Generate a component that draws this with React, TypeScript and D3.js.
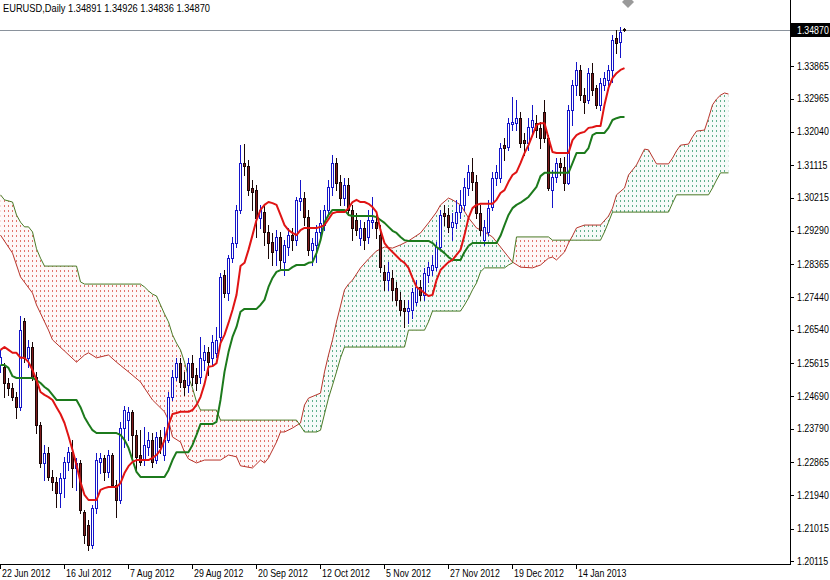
import React from "react"
import * as d3 from "d3"

// EURUSD daily candles, one entry per trading day (bar 0 = 22 Jun 2012)
const opens = [
  1.2556, 1.2551, 1.2506, 1.2492, 1.2467, 1.2439, 1.2678, 1.2576, 1.2606, 1.2523,
  1.2389, 1.2284, 1.2312, 1.2245, 1.2231, 1.2200, 1.2242, 1.2287, 1.2314, 1.2270,
  1.2284, 1.2148, 1.2112, 1.2056, 1.2159, 1.2287, 1.2298, 1.2259, 1.2306, 1.2223,
  1.2181, 1.2381, 1.2403, 1.2426, 1.2362, 1.2306, 1.2292, 1.2328, 1.2348, 1.2292,
  1.2356, 1.2306, 1.2348, 1.2467, 1.2523, 1.2562, 1.2514, 1.2500, 1.2562, 1.2528,
  1.2523, 1.2570, 1.2592, 1.2576, 1.2590, 1.2634, 1.2806, 1.2756, 1.2853, 1.2895,
  1.2987, 1.3117, 1.3109, 1.3048, 1.3042, 1.2965, 1.2981, 1.2926, 1.2898, 1.2876,
  1.2912, 1.2842, 1.2884, 1.2917, 1.2903, 1.3012, 1.3020, 1.2967, 1.2876, 1.2890,
  1.2926, 1.2945, 1.2987, 1.3051, 1.3117, 1.3065, 1.3020, 1.3056, 1.2987, 1.2959,
  1.2909, 1.2937, 1.2912, 1.2953, 1.2953, 1.2917, 1.2815, 1.2792, 1.2798, 1.2770,
  1.2737, 1.2715, 1.2706, 1.2709, 1.2731, 1.2773, 1.2751, 1.2806, 1.2820, 1.2828,
  1.2884, 1.2978, 1.2973, 1.2940, 1.2951, 1.2981, 1.3001, 1.3048, 1.3092, 1.3065,
  1.2978, 1.2903, 1.2926, 1.2995, 1.3076, 1.3076, 1.3167, 1.3162, 1.3226, 1.3228,
  1.3242, 1.3181, 1.3173, 1.3217, 1.3228, 1.3215, 1.3259, 1.3187, 1.3042, 1.3078,
  1.3117, 1.3106, 1.3062, 1.3265, 1.3334, 1.3376, 1.3306, 1.3292, 1.3367, 1.3326,
  1.3279, 1.3334, 1.3348, 1.3376, 1.3465, 1.3454, 1.34891,
]
const highs = [
  1.2598, 1.2562, 1.2520, 1.2506, 1.2481, 1.2692, 1.2687, 1.2626, 1.2620, 1.2537,
  1.2398, 1.2334, 1.2328, 1.2264, 1.2245, 1.2256, 1.2300, 1.2328, 1.2348, 1.2298,
  1.2292, 1.2153, 1.2125, 1.2167, 1.2312, 1.2312, 1.2306, 1.2320, 1.2312, 1.2237,
  1.2398, 1.2442, 1.2439, 1.2431, 1.2375, 1.2375, 1.2384, 1.2370, 1.2367, 1.2370,
  1.2375, 1.2384, 1.2481, 1.2542, 1.2576, 1.2576, 1.2537, 1.2576, 1.2584, 1.2548,
  1.2634, 1.2612, 1.2606, 1.2640, 1.2662, 1.2812, 1.2820, 1.2862, 1.2912, 1.3001,
  1.3167, 1.3170, 1.3126, 1.3070, 1.3056, 1.3001, 1.3001, 1.2945, 1.2923, 1.2931,
  1.2926, 1.2903, 1.2937, 1.2937, 1.3023, 1.3070, 1.3037, 1.2987, 1.2909, 1.2945,
  1.2987, 1.3001, 1.3070, 1.3140, 1.3131, 1.3084, 1.3076, 1.3076, 1.3001, 1.2978,
  1.2959, 1.2953, 1.2987, 1.3023, 1.2973, 1.2945, 1.2834, 1.2842, 1.2820, 1.2787,
  1.2759, 1.2737, 1.2737, 1.2770, 1.2792, 1.2792, 1.2826, 1.2842, 1.2862, 1.2898,
  1.2987, 1.3001, 1.2992, 1.2978, 1.3015, 1.3042, 1.3076, 1.3112, 1.3131, 1.3084,
  1.3001, 1.2959, 1.3015, 1.3092, 1.3112, 1.3173, 1.3187, 1.3242, 1.3301, 1.3292,
  1.3259, 1.3201, 1.3242, 1.3279, 1.3251, 1.3231, 1.3292, 1.3195, 1.3098, 1.3131,
  1.3131, 1.3134, 1.3279, 1.3348, 1.3398, 1.3390, 1.3326, 1.3381, 1.3395, 1.3334,
  1.3353, 1.3370, 1.3390, 1.3473, 1.3487, 1.3495, 1.34926,
]
const lows = [
  1.2537, 1.2467, 1.2473, 1.2459, 1.2409, 1.2431, 1.2564, 1.2551, 1.2514, 1.2367,
  1.2273, 1.2237, 1.2237, 1.2209, 1.2162, 1.2162, 1.2189, 1.2264, 1.2217, 1.2209,
  1.2145, 1.2062, 1.2042, 1.2048, 1.2145, 1.2256, 1.2237, 1.2245, 1.2217, 1.2134,
  1.2173, 1.2328, 1.2348, 1.2300, 1.2264, 1.2278, 1.2278, 1.2306, 1.2273, 1.2284,
  1.2312, 1.2292, 1.2342, 1.2459, 1.2514, 1.2495, 1.2473, 1.2481, 1.2500, 1.2487,
  1.2506, 1.2542, 1.2528, 1.2556, 1.2578, 1.2617, 1.2745, 1.2737, 1.2842, 1.2884,
  1.2978, 1.3084, 1.3029, 1.2987, 1.2912, 1.2937, 1.2890, 1.2853, 1.2834, 1.2834,
  1.2826, 1.2806, 1.2862, 1.2876, 1.2890, 1.2987, 1.2945, 1.2862, 1.2834, 1.2842,
  1.2903, 1.2931, 1.2973, 1.3029, 1.3042, 1.3001, 1.3001, 1.2973, 1.2903, 1.2917,
  1.2890, 1.2879, 1.2895, 1.2937, 1.2909, 1.2815, 1.2765, 1.2765, 1.2737, 1.2723,
  1.2695, 1.2662, 1.2673, 1.2687, 1.2723, 1.2737, 1.2737, 1.2787, 1.2806, 1.2820,
  1.2876, 1.2945, 1.2926, 1.2903, 1.2937, 1.2965, 1.2987, 1.3029, 1.3042, 1.2965,
  1.2917, 1.2890, 1.2917, 1.2987, 1.3056, 1.3065, 1.3126, 1.3154, 1.3209, 1.3209,
  1.3162, 1.3140, 1.3154, 1.3201, 1.3190, 1.3159, 1.3176, 1.3042, 1.2995, 1.3065,
  1.3084, 1.3042, 1.3059, 1.3223, 1.3306, 1.3292, 1.3256, 1.3284, 1.3306, 1.3270,
  1.3265, 1.3320, 1.3334, 1.3342, 1.3423, 1.3412, 1.34836,
]
const closes = [
  1.2578, 1.2506, 1.2492, 1.2467, 1.2439, 1.2653, 1.2576, 1.2606, 1.2523, 1.2389,
  1.2284, 1.2312, 1.2245, 1.2231, 1.2200, 1.2242, 1.2287, 1.2314, 1.2270, 1.2284,
  1.2153, 1.2084, 1.2056, 1.2159, 1.2292, 1.2298, 1.2259, 1.2306, 1.2223, 1.2181,
  1.2381, 1.2431, 1.2426, 1.2362, 1.2300, 1.2287, 1.2334, 1.2348, 1.2287, 1.2356,
  1.2328, 1.2348, 1.2467, 1.2523, 1.2562, 1.2509, 1.2495, 1.2562, 1.2523, 1.2506,
  1.2576, 1.2592, 1.2564, 1.2620, 1.2626, 1.2801, 1.2756, 1.2853, 1.2895, 1.2987,
  1.3117, 1.3109, 1.3042, 1.3037, 1.2965, 1.2987, 1.2926, 1.2895, 1.2870, 1.2912,
  1.2848, 1.2890, 1.2917, 1.2903, 1.3015, 1.3020, 1.2967, 1.2876, 1.2895, 1.2926,
  1.2951, 1.2987, 1.3051, 1.3117, 1.3062, 1.3020, 1.3056, 1.2987, 1.2937, 1.2931,
  1.2937, 1.2903, 1.2959, 1.2959, 1.2937, 1.2828, 1.2792, 1.2815, 1.2765, 1.2737,
  1.2709, 1.2706, 1.2715, 1.2759, 1.2773, 1.2751, 1.2812, 1.2828, 1.2834, 1.2884,
  1.2973, 1.2970, 1.2940, 1.2953, 1.2981, 1.3001, 1.3051, 1.3092, 1.3065, 1.2978,
  1.2931, 1.2940, 1.2992, 1.3076, 1.3092, 1.3159, 1.3159, 1.3228, 1.3231, 1.3242,
  1.3173, 1.3173, 1.3217, 1.3237, 1.3209, 1.3187, 1.3187, 1.3048, 1.3078, 1.3117,
  1.3106, 1.3062, 1.3265, 1.3334, 1.3376, 1.3306, 1.3287, 1.3367, 1.3320, 1.3279,
  1.3340, 1.3353, 1.3376, 1.3459, 1.3451, 1.3481, 1.34870,
]

// Ichimoku: Tenkan-sen (red) and Kijun-sen (green), one value per bar
const tenkan = [
  1.2598, 1.2606, 1.2598, 1.2590, 1.2590, 1.2576, 1.2576, 1.2564, 1.2542, 1.2514,
  1.2481, 1.2473, 1.2467, 1.2459, 1.2439, 1.2420, 1.2395, 1.2359, 1.2320, 1.2278,
  1.2231, 1.2195, 1.2181, 1.2181, 1.2181, 1.2209, 1.2214, 1.2217, 1.2217, 1.2217,
  1.2228, 1.2256, 1.2275, 1.2287, 1.2292, 1.2292, 1.2292, 1.2292, 1.2298, 1.2306,
  1.2320, 1.2348, 1.2389, 1.2420, 1.2423, 1.2426, 1.2426, 1.2426, 1.2431, 1.2445,
  1.2467, 1.2503, 1.2551, 1.2553, 1.2561, 1.2617, 1.2640, 1.2673, 1.2709, 1.2751,
  1.2831, 1.2840, 1.2876, 1.2917, 1.2959, 1.2987, 1.3001, 1.3009, 1.3006, 1.3001,
  1.2973, 1.2945, 1.2931, 1.2923, 1.2917, 1.2931, 1.2937, 1.2937, 1.2937, 1.2937,
  1.2940, 1.2945, 1.2961, 1.2978, 1.2981, 1.2981, 1.2981, 1.2992, 1.3009, 1.3015,
  1.3009, 1.3009, 1.3004, 1.2995, 1.2981, 1.2931, 1.2895, 1.2881, 1.2870, 1.2859,
  1.2848, 1.2840, 1.2826, 1.2798, 1.2773, 1.2765, 1.2756, 1.2748, 1.2751, 1.2792,
  1.2820, 1.2831, 1.2842, 1.2848, 1.2862, 1.2876, 1.2917, 1.2965, 1.2992, 1.3001,
  1.3004, 1.3004, 1.3004, 1.3004, 1.3015, 1.3034, 1.3042, 1.3065, 1.3084, 1.3092,
  1.3117, 1.3145, 1.3167, 1.3195, 1.3223, 1.3228, 1.3228, 1.3187, 1.3148, 1.3145,
  1.3145, 1.3145, 1.3145, 1.3181, 1.3195, 1.3201, 1.3204, 1.3215, 1.3217, 1.3220,
  1.3220, 1.3279, 1.3326, 1.3353, 1.3367, 1.3376, 1.3381,
]
const kijun = [
  1.2556, 1.2556, 1.2548, 1.2525, 1.2520, 1.2520, 1.2520, 1.2520, 1.2520, 1.2514,
  1.2506, 1.2495, 1.2487, 1.2473, 1.2459, 1.2459, 1.2459, 1.2459, 1.2459, 1.2459,
  1.2439, 1.2411, 1.2392, 1.2375, 1.2367, 1.2367, 1.2367, 1.2367, 1.2367, 1.2367,
  1.2362, 1.2348, 1.2326, 1.2292, 1.2259, 1.2245, 1.2245, 1.2245, 1.2245, 1.2245,
  1.2245, 1.2245, 1.2264, 1.2292, 1.2314, 1.2314, 1.2314, 1.2314, 1.2334, 1.2362,
  1.2392, 1.2392, 1.2392, 1.2392, 1.2398, 1.2459, 1.2537, 1.2592, 1.2634, 1.2662,
  1.2704, 1.2712, 1.2712, 1.2712, 1.2712, 1.2723, 1.2737, 1.2773, 1.2798, 1.2815,
  1.2820, 1.2820, 1.2820, 1.2828, 1.2834, 1.2834, 1.2834, 1.2840, 1.2842, 1.2867,
  1.2903, 1.2953, 1.2973, 1.2987, 1.2987, 1.2987, 1.2987, 1.2973, 1.2970, 1.2970,
  1.2970, 1.2970, 1.2970, 1.2970, 1.2967, 1.2959, 1.2951, 1.2940, 1.2929, 1.2923,
  1.2912, 1.2903, 1.2901, 1.2901, 1.2901, 1.2901, 1.2901, 1.2901, 1.2895, 1.2884,
  1.2876, 1.2867, 1.2856, 1.2848, 1.2848, 1.2848, 1.2870, 1.2887, 1.2895, 1.2895,
  1.2895, 1.2895, 1.2895, 1.2895, 1.2895, 1.2915, 1.2945, 1.2973, 1.2992, 1.3001,
  1.3007, 1.3015, 1.3023, 1.3037, 1.3051, 1.3081, 1.3090, 1.3090, 1.3090, 1.3090,
  1.3090, 1.3090, 1.3090, 1.3117, 1.3145, 1.3145, 1.3145, 1.3159, 1.3195, 1.3201,
  1.3201, 1.3201, 1.3215, 1.3237, 1.3242, 1.3245, 1.3245,
]

// Senkou spans (shifted 26 bars ahead), read as [bar, price] turning points
const spanA: [number, number][] = [
  [0, 1.2917], [3, 1.2867], [5, 1.2801], [8, 1.2756], [9, 1.2723], [12, 1.2653],
  [13, 1.2626], [16, 1.2595], [19, 1.2564], [21, 1.2584], [22, 1.259], [24, 1.2576],
  [27, 1.2584], [29, 1.2564], [32, 1.2537], [35, 1.2509], [36, 1.2492], [38, 1.2459],
  [41, 1.2426], [42, 1.2403], [43, 1.2356], [45, 1.2342], [46, 1.2314], [47, 1.2295],
  [49, 1.2284], [51, 1.2292], [55, 1.2292], [57, 1.2306], [59, 1.2301], [60, 1.2276],
  [63, 1.227], [65, 1.2292], [66, 1.2284], [67, 1.2298], [69, 1.2342], [70, 1.237],
  [71, 1.237], [73, 1.2381], [75, 1.2395], [76, 1.2445], [77, 1.2464], [80, 1.2478],
  [81, 1.2537], [82, 1.2584], [83, 1.2626], [84, 1.2676], [85, 1.272], [86, 1.2765],
  [87, 1.2781], [88, 1.2792], [89, 1.2809], [90, 1.2826], [92, 1.2851], [94, 1.2873],
  [96, 1.2884], [98, 1.2881], [100, 1.289], [102, 1.2901], [105, 1.2923], [107, 1.2951],
  [109, 1.2981], [110, 1.3001], [112, 1.302], [113, 1.3015], [115, 1.3001], [117, 1.2965],
  [119, 1.2937], [121, 1.2926], [123, 1.2912], [125, 1.2884], [127, 1.2856], [128, 1.2842],
  [130, 1.2828], [133, 1.2826], [135, 1.2834], [137, 1.2853], [138, 1.2856], [139, 1.2848],
  [141, 1.287], [142, 1.2895], [143, 1.2915], [144, 1.2937], [146, 1.2945], [150, 1.2945],
  [152, 1.297], [153, 1.2992], [154, 1.3029], [156, 1.3048], [157, 1.3084], [159, 1.3112],
  [160, 1.3134], [161, 1.3156], [162, 1.3154], [163, 1.3134], [164, 1.3115], [167, 1.3115],
  [168, 1.3131], [169, 1.3151], [170, 1.3167], [172, 1.317], [173, 1.319], [174, 1.3206],
  [176, 1.3209], [177, 1.3242], [178, 1.3279], [179, 1.3295], [180, 1.3306], [181, 1.3312],
  [182, 1.3309],
]
const spanB: [number, number][] = [
  [0, 1.3029], [1, 1.3015], [3, 1.3009], [4, 1.2973], [5, 1.2953], [6, 1.294],
  [7, 1.294], [8, 1.2926], [9, 1.2879], [10, 1.2853], [11, 1.2831], [19, 1.2831],
  [20, 1.2787], [21, 1.2781], [35, 1.2781], [36, 1.2773], [37, 1.2762], [38, 1.2753],
  [39, 1.2748], [40, 1.2723], [41, 1.2698], [42, 1.2676], [43, 1.264], [44, 1.2617],
  [45, 1.2598], [46, 1.2564], [47, 1.2523], [48, 1.2492], [49, 1.2454], [50, 1.2431],
  [54, 1.2431], [55, 1.2403], [74, 1.2403], [75, 1.2387], [76, 1.237], [79, 1.237],
  [80, 1.2375], [81, 1.242], [82, 1.2464], [83, 1.25], [84, 1.2537], [85, 1.2576],
  [86, 1.2606], [101, 1.2606], [102, 1.2653], [106, 1.2653], [107, 1.2676], [108, 1.2706],
  [115, 1.2706], [116, 1.2723], [117, 1.2742], [118, 1.2765], [119, 1.2784], [120, 1.2815],
  [121, 1.2826], [126, 1.2826], [127, 1.2834], [128, 1.284], [129, 1.2912], [137, 1.2912],
  [138, 1.2903], [150, 1.2903], [151, 1.2926], [152, 1.2953], [153, 1.2981], [167, 1.2981],
  [168, 1.3006], [169, 1.3029], [177, 1.3029], [178, 1.3048], [179, 1.307], [180, 1.309],
  [182, 1.309],
]

const priceTicks = [
  1.33865, 1.32965, 1.3204, 1.31115, 1.30215, 1.2929, 1.28365, 1.2744,
  1.2654, 1.25615, 1.2469, 1.2379, 1.22865, 1.2194, 1.21015, 1.20115,
]
const dateTickBars = [0, 16, 32, 48, 64, 80, 96, 112, 128, 144]
const dateLabels = [
  "22 Jun 2012", "16 Jul 2012", "7 Aug 2012", "29 Aug 2012", "20 Sep 2012",
  "12 Oct 2012", "5 Nov 2012", "27 Nov 2012", "19 Dec 2012", "14 Jan 2013",
]
const titleText = "EURUSD,Daily  1.34891 1.34926 1.34836 1.34870"
const lastPrice = 1.3487

const font = "'Liberation Sans', Arial, sans-serif"

export default function App() {
  const width = 830
  const height = 580
  const plotRight = 790
  const plotBottom = 564

  const x = d3.scaleLinear().domain([0, 156]).range([0, 624])
  const y = d3.scaleLinear().domain([1.20115, 1.3487]).range([561, 30])
  const px = (i: number) => Math.round(x(i))

  const seriesLine = d3
    .line<number>()
    .x((_, i) => px(i) + 0.5)
    .y((d) => y(d))

  const spanLine = d3
    .line<[number, number]>()
    .x((d) => px(d[0]) + 0.5)
    .y((d) => y(d[1]))

  // cloud polygon = span A forward, span B back
  const cloudPath =
    spanLine(spanA)! + spanLine([...spanB].reverse())!.replace(/^M/, "L") + "Z"
  const firstX = px(spanB[0][0]) + 0.5
  const lastX = px(spanB[spanB.length - 1][0]) + 0.5
  const aboveB = spanLine(spanB)! + `L${lastX},-20L${firstX},-20Z`
  const belowB = spanLine(spanB)! + `L${lastX},620L${firstX},620Z`

  const bullStroke = "#1414c8"
  const bearFill = "#7e1c1c"
  const bearStroke = "#1a0606"

  return (
    <div style={{ position: "absolute", left: 0, top: 0 }}>
      <svg width={width} height={height} style={{ display: "block", background: "#fff" }}>
        <defs>
          <clipPath id="plot">
            <rect x={0} y={0} width={plotRight} height={plotBottom} />
          </clipPath>
          <clipPath id="aboveB">
            <path d={aboveB} />
          </clipPath>
          <clipPath id="belowB">
            <path d={belowB} />
          </clipPath>
          <pattern id="hatchGreen" width={4} height={5} patternUnits="userSpaceOnUse">
            <rect x={0} y={0} width={1} height={2} fill="#3a9c70" fillOpacity={0.8} />
          </pattern>
          <pattern id="hatchRed" width={4} height={5} patternUnits="userSpaceOnUse">
            <rect x={0} y={0} width={1} height={2} fill="#d9534a" fillOpacity={0.8} />
          </pattern>
        </defs>

        <g clipPath="url(#plot)">
          {/* cloud */}
          <g clipPath="url(#aboveB)">
            <path d={cloudPath} fill="#3a9c70" fillOpacity={0.04} />
            <path d={cloudPath} fill="url(#hatchGreen)" />
          </g>
          <g clipPath="url(#belowB)">
            <path d={cloudPath} fill="#d9534a" fillOpacity={0.04} />
            <path d={cloudPath} fill="url(#hatchRed)" />
          </g>
          <path d={spanLine(spanA)!} fill="none" stroke="#b8352c" strokeWidth={1} />
          <path d={spanLine(spanB)!} fill="none" stroke="#4a7a26" strokeWidth={1} />

          {/* bid line */}
          <line x1={0} x2={plotRight} y1={y(lastPrice) + 0.5} y2={y(lastPrice) + 0.5} stroke="#8a929c" strokeWidth={1} />

          {/* candles */}
          <g shapeRendering="crispEdges">
            {opens.map((o, i) => {
              const c = closes[i]
              const bull = c >= o
              const cx = px(i)
              const top = Math.round(y(Math.max(o, c)))
              const bot = Math.round(y(Math.min(o, c)))
              return (
                <g key={i}>
                  <line
                    x1={cx + 0.5}
                    x2={cx + 0.5}
                    y1={Math.round(y(highs[i]))}
                    y2={Math.round(y(lows[i])) + 1}
                    stroke={bull ? bullStroke : bearStroke}
                  />
                  <rect
                    x={cx - 0.5}
                    y={top + 0.5}
                    width={2}
                    height={Math.max(bot - top, 0)}
                    fill={bull ? "#fff" : bearFill}
                    stroke={bull ? bullStroke : bearStroke}
                  />
                </g>
              )
            })}
          </g>

          {/* kijun and tenkan */}
          <path d={seriesLine(kijun)!} fill="none" stroke="#1c7a1c" strokeWidth={2} strokeLinejoin="round" />
          <path d={seriesLine(tenkan)!} fill="none" stroke="#e01414" strokeWidth={2} strokeLinejoin="round" />

          {/* chart shift marker */}
          <polygon points="628,-4 634,2 628,8 622,2" fill="#9a9a9a" />
        </g>

        {/* axes */}
        <g shapeRendering="crispEdges">
          <line x1={plotRight + 0.5} x2={plotRight + 0.5} y1={0} y2={plotBottom + 1} stroke="#000" />
          <line x1={0} x2={plotRight + 1} y1={plotBottom + 0.5} y2={plotBottom + 0.5} stroke="#000" />
          {priceTicks.map((p) => (
            <line key={p} x1={plotRight} x2={plotRight + 4} y1={Math.round(y(p)) + 0.5} y2={Math.round(y(p)) + 0.5} stroke="#000" />
          ))}
          {dateTickBars.map((b) => (
            <line key={b} x1={px(b) + 0.5} x2={px(b) + 0.5} y1={plotBottom} y2={plotBottom + 5} stroke="#000" />
          ))}
        </g>

        {priceTicks.map((p) => (
          <text
            key={p}
            transform={`translate(797,${y(p) + 3.5}) scale(0.88,1)`}
            fontFamily={font}
            fontSize={10}
            fill="#000"
          >
            {p.toFixed(5)}
          </text>
        ))}

        <rect x={791} y={Math.round(y(lastPrice)) - 7} width={39} height={14} fill="#000" />
        <text
          transform={`translate(797,${y(lastPrice) + 3.5}) scale(0.88,1)`}
          fontFamily={font}
          fontSize={10}
          fill="#fff"
        >
          {lastPrice.toFixed(5)}
        </text>

        {dateTickBars.map((b, k) => (
          <text
            key={b}
            transform={`translate(${px(b) + 2},577) scale(0.88,1)`}
            fontFamily={font}
            fontSize={10}
            fill="#000"
          >
            {dateLabels[k]}
          </text>
        ))}

        <text transform="translate(3,12) scale(0.93,1)" fontFamily={font} fontSize={10} fill="#000">
          {titleText}
        </text>
      </svg>
    </div>
  )
}
